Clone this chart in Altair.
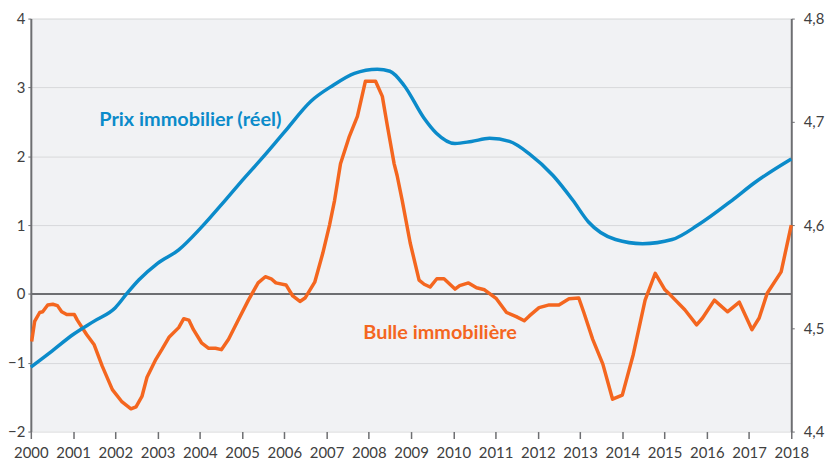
import altair as alt
import pandas as pd

# Blue series: real house prices (right axis)
blue_years = [2000.0, 2000.5, 2001.0, 2001.5, 2002.0, 2002.28, 2002.56, 2003.0, 2003.5, 2004.04,
              2004.6, 2005.0, 2005.5, 2006.0, 2006.63, 2007.14, 2007.66, 2008.2, 2008.5, 2008.84,
              2009.3, 2009.6, 2010.04, 2010.43, 2010.86, 2011.33, 2011.8, 2012.36, 2012.83, 2013.2,
              2013.84, 2014.48, 2015.18, 2015.79, 2016.6, 2017.13, 2018.0]
blue_vals = [4.4625, 4.478, 4.494, 4.507, 4.520, 4.534, 4.547, 4.563, 4.576, 4.598,
             4.624, 4.643, 4.666, 4.690, 4.720, 4.735, 4.747, 4.751, 4.749, 4.735,
             4.704, 4.689, 4.679, 4.681, 4.684, 4.681, 4.669, 4.648, 4.624, 4.603,
             4.586, 4.582, 4.586, 4.600, 4.624, 4.641, 4.664]

# Orange series: housing bubble (left axis)
orange_years = [2000.02, 2000.09, 2000.21, 2000.28, 2000.40, 2000.52, 2000.63, 2000.73, 2000.85, 2001.03,
                2001.10, 2001.32, 2001.50, 2001.69, 2001.93, 2002.16, 2002.37, 2002.49, 2002.63, 2002.75,
                2002.96, 2003.10, 2003.27, 2003.50, 2003.62, 2003.74, 2003.85, 2004.04, 2004.21, 2004.37,
                2004.51, 2004.68, 2004.91, 2005.15, 2005.38, 2005.55, 2005.69, 2005.80, 2006.04, 2006.20,
                2006.37, 2006.49, 2006.72, 2006.91, 2007.07, 2007.19, 2007.33, 2007.54, 2007.73, 2007.92,
                2008.16, 2008.32, 2008.44, 2008.60, 2008.67, 2008.79, 2008.98, 2009.19, 2009.31, 2009.45,
                2009.61, 2009.78, 2010.04, 2010.15, 2010.36, 2010.55, 2010.74, 2011.02, 2011.26, 2011.49,
                2011.68, 2011.80, 2012.03, 2012.27, 2012.50, 2012.74, 2012.97, 2013.09, 2013.30, 2013.54,
                2013.77, 2014.00, 2014.26, 2014.54, 2014.78, 2015.01, 2015.13, 2015.48, 2015.76, 2015.90,
                2016.18, 2016.49, 2016.77, 2017.07, 2017.24, 2017.43, 2017.76, 2018.0]
orange_vals = [-0.69, -0.40, -0.27, -0.26, -0.16, -0.15, -0.17, -0.26, -0.30, -0.30,
               -0.38, -0.59, -0.74, -1.05, -1.39, -1.57, -1.67, -1.64, -1.49, -1.21,
               -0.95, -0.81, -0.63, -0.49, -0.36, -0.38, -0.52, -0.71, -0.79, -0.79,
               -0.81, -0.66, -0.38, -0.09, 0.16, 0.25, 0.22, 0.16, 0.13, -0.03,
               -0.11, -0.06, 0.17, 0.59, 1.0, 1.36, 1.89, 2.29, 2.58, 3.09,
               3.09, 2.87, 2.44, 1.89, 1.72, 1.36, 0.74, 0.20, 0.14, 0.10,
               0.22, 0.22, 0.07, 0.12, 0.16, 0.09, 0.06, -0.07, -0.27, -0.33,
               -0.39, -0.32, -0.20, -0.16, -0.16, -0.07, -0.06, -0.27, -0.66, -1.02,
               -1.53, -1.47, -0.88, -0.09, 0.30, 0.06, -0.01, -0.23, -0.45, -0.35,
               -0.09, -0.26, -0.12, -0.52, -0.35, 0.01, 0.32, 1.0]

year_ticks = list(range(2000, 2019))
left_ticks = [-2, -1, 0, 1, 2, 3, 4]
right_ticks = [4.4, 4.5, 4.6, 4.7, 4.8]

label_names = ["Prix immobilier (réel)", "Bulle immobilière"]
label_years = [2001.62, 2007.87]
label_vals = [2.44, -0.66]

BLUE = "#0b8bca"
ORANGE = "#f4661f"
AXIS = "#6d6e71"
TEXT = "#404040"
FONT = "Lato"

blue_df = pd.DataFrame({"year": blue_years, "value": blue_vals})
orange_df = pd.DataFrame({"year": orange_years, "value": orange_vals})
lab_df = pd.DataFrame({"year": label_years, "value": label_vals, "label": label_names})

xscale = alt.Scale(domain=[2000, 2018], nice=False, zero=False)
xaxis = alt.Axis(values=year_ticks, format="d", title=None, domain=False, grid=False,
                 ticks=True, tickSize=7, tickColor=AXIS, tickWidth=1.5, labelPadding=7,
                 labelFont=FONT, labelFontSize=15, labelColor=TEXT, labelFlush=False,
                 labelOverlap=False)
lscale = alt.Scale(domain=[-2, 4], nice=False, zero=False)
laxis = alt.Axis(values=left_ticks, format="d", title=None, grid=True, gridColor="#d8d9db",
                 gridWidth=1, domainColor=AXIS, domainWidth=2, tickSize=3, tickColor=AXIS,
                 labelPadding=3, labelFont=FONT, labelFontSize=15, labelColor=TEXT)
rscale = alt.Scale(domain=[4.4, 4.8], nice=False, zero=False)
raxis = alt.Axis(values=right_ticks, orient="right", title=None, grid=False,
                 labelExpr="replace(format(datum.value, '.1f'), '.', ',')",
                 domainColor=AXIS, domainWidth=2, tickSize=3, tickColor=AXIS,
                 labelPadding=9, labelFont=FONT, labelFontSize=15, labelColor=TEXT)

zero_df = pd.DataFrame({"y": [0]})
zero_rule = alt.Chart(zero_df).mark_rule(color=AXIS, strokeWidth=2).encode(
    y=alt.Y("y:Q", scale=lscale, axis=laxis)
)

orange = alt.Chart(orange_df).mark_line(color=ORANGE, strokeWidth=3.5, strokeJoin="round").encode(
    x=alt.X("year:Q", scale=xscale, axis=xaxis),
    y=alt.Y("value:Q", scale=lscale, axis=laxis),
)

texts = alt.Chart(lab_df).mark_text(align="left", baseline="alphabetic", font=FONT, fontSize=20,
                                    fontWeight="bold").encode(
    x=alt.X("year:Q", scale=xscale),
    y=alt.Y("value:Q", scale=lscale),
    text="label:N",
    color=alt.Color("label:N", scale=alt.Scale(domain=label_names, range=[BLUE, ORANGE]), legend=None),
)

left = alt.layer(zero_rule, orange, texts)

blue = alt.Chart(blue_df).mark_line(color=BLUE, strokeWidth=3.5, interpolate="monotone").encode(
    x=alt.X("year:Q", scale=xscale, axis=xaxis),
    y=alt.Y("value:Q", scale=rscale, axis=raxis),
)

chart = alt.layer(left, blue).resolve_scale(y="independent").properties(
    width=766, height=416,
    padding={"left": 23, "top": 9, "right": 38, "bottom": 31},
    autosize="none",
    background="white",
).configure_view(stroke=None, fill="#f1f2f4")

chart.save("out.html", embed_options={"renderer": "svg", "actions": False})
